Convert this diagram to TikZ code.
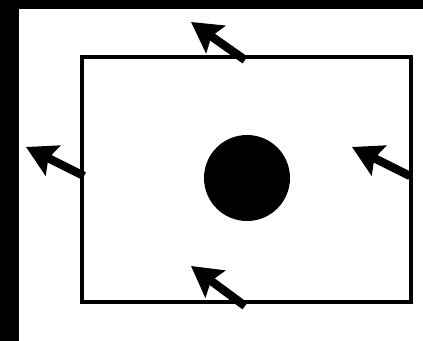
\documentclass[tikz,border=0pt]{standalone}
\usetikzlibrary{arrows.meta}
\tikzset{>={Stealth[length=.6cm,width=.66cm,inset=.1cm]},wall/.style={line width=2.4pt},push/.style={line width=4.8pt,->}}
\begin{document}
\begin{tikzpicture}[x=.02cm,y=-.02cm]
\fill[black] (0,0) rectangle (423,341);\fill[white] (19,9) rectangle (423,341);
\useasboundingbox (0,0) rectangle (423,341);
\draw[wall] (82,57) rectangle (411,302);
\fill (247,178) circle (43);
% tails on the walls, tips pointing up and left
\coordinate (top) at (245,60);\coordinate (topTip) at (191,22);
\coordinate (bot) at (245,306);\coordinate (botTip) at (191,266);
\coordinate (lft) at (84,176);\coordinate (lftTip) at (26,147);
\coordinate (rgt) at (410,176);\coordinate (rgtTip) at (352,147);
\draw[push] (top)--(topTip);\draw[push] (bot)--(botTip);\draw[push] (lft)--(lftTip);\draw[push] (rgt)--(rgtTip);
\end{tikzpicture}
\end{document}
